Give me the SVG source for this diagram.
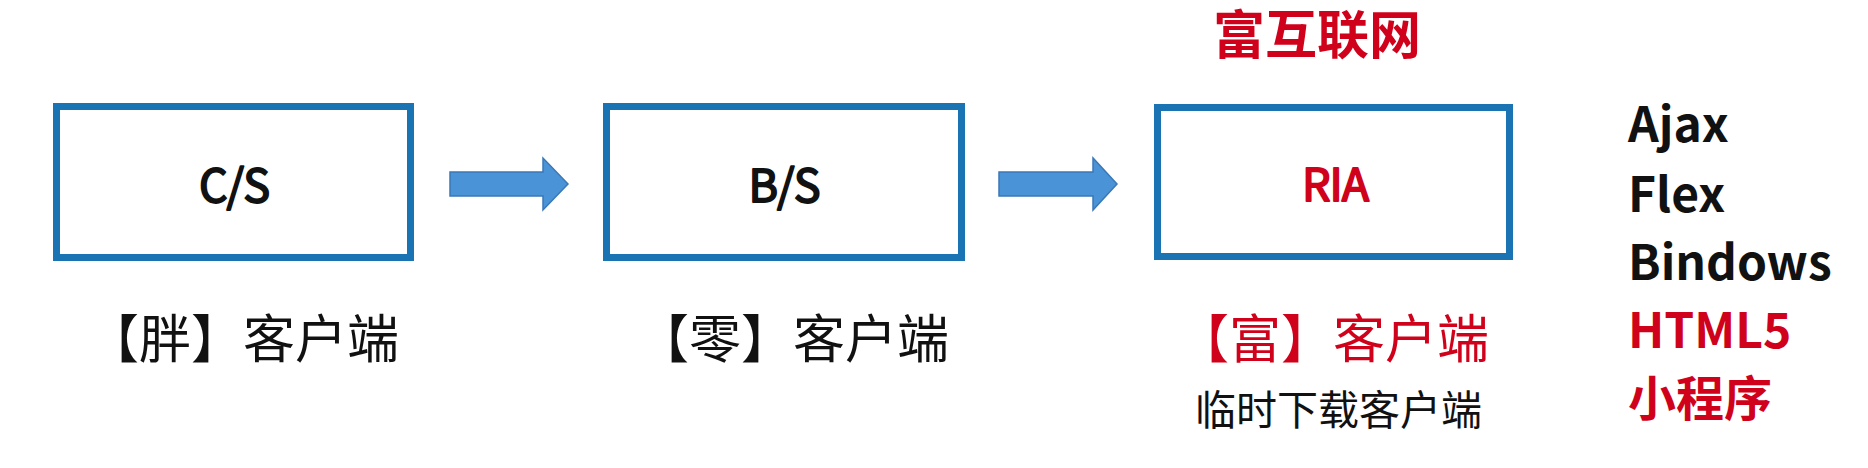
<svg xmlns="http://www.w3.org/2000/svg" width="1868" height="468" viewBox="0 0 1868 468">
<style>
  .box { fill: #ffffff; stroke: #1a74b3; stroke-width: 7; }
  .arrow { fill: #4a93d6; stroke: #3a78b8; stroke-width: 1.5; stroke-linejoin: miter; }
  .t { font-family: "Noto Sans CJK SC", "Noto Sans", sans-serif; fill: #111111; }
  .red { fill: #d0021b; }
  .mid { text-anchor: middle; }
  .boxlabel { font-size: 45px; font-weight: 400; letter-spacing: -1px; stroke: #111111; stroke-width: 1.8px; stroke-linejoin: round; }
  .boxlabel.red { stroke: #d0021b; }
  .sub { font-size: 52px; font-weight: 400; }
  .tech { font-size: 48px; font-weight: 700; }
</style>
<rect width="1868" height="468" fill="#ffffff"/>

<g id="title">
  <text class="t red" x="1213" y="54" font-size="52" font-weight="700">富互联网</text>
</g>

<g id="node-cs">
  <rect class="box" x="56.5" y="106.5" width="354" height="151"/>
  <text class="t boxlabel mid" x="234" y="202">C/S</text>
  <text class="t sub" x="87" y="358">【胖】客户端</text>
</g>

<g id="node-bs">
  <rect class="box" x="606.5" y="106.5" width="355" height="151"/>
  <text class="t boxlabel mid" x="784" y="202">B/S</text>
  <text class="t sub" x="637" y="358">【零】客户端</text>
</g>

<g id="node-ria">
  <rect class="box" x="1157.5" y="107.5" width="352" height="149"/>
  <text class="t boxlabel mid red" x="1335" y="201">RIA</text>
  <text class="t sub red" x="1177" y="358" font-weight="700">【富】客户端</text>
  <text class="t" x="1195" y="425" font-size="41">临时下载客户端</text>
</g>

<g id="tech-list">
  <text class="t tech" x="1628" y="142">Ajax</text>
  <text class="t tech" x="1628" y="212">Flex</text>
  <text class="t tech" x="1628" y="280">Bindows</text>
  <text class="t tech red" x="1628" y="348">HTML5</text>
  <text class="t tech red" x="1628" y="416">小程序</text>
</g>

<g id="connectors">
  <polygon class="arrow" points="450,172 543,172 543,158 568,184 543,210 543,196 450,196"/>
  <polygon class="arrow" points="999,172 1093,172 1093,158 1117,184 1093,210 1093,196 999,196"/>
</g>
</svg>
